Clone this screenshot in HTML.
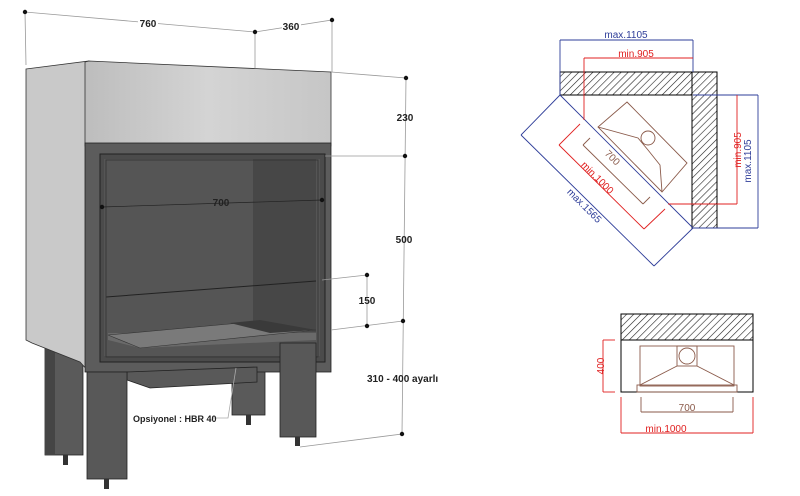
<!DOCTYPE html>
<html><head><style>
html,body{margin:0;padding:0;background:#fff;}
svg{display:block;font-family:"Liberation Sans",sans-serif;}
</style></head><body>
<svg width="800" height="496" viewBox="0 0 800 496" xmlns="http://www.w3.org/2000/svg">
<defs>
<pattern id="h" width="5" height="5" patternUnits="userSpaceOnUse" patternTransform="rotate(45)">
<rect width="5" height="5" fill="#fff"/><line x1="0" y1="0" x2="0" y2="5" stroke="#222" stroke-width="1.2"/>
</pattern>
<linearGradient id="g1" x1="0" x2="1"><stop offset="0" stop-color="#bdbdbd"/><stop offset="0.5" stop-color="#d4d4d4"/><stop offset="1" stop-color="#c6c6c6"/></linearGradient>
</defs>
<!-- left leg back -->
<rect x="45" y="335" width="38" height="120" fill="#5a5a5a" stroke="#222" stroke-width="0.8"/>
<rect x="45" y="335" width="10" height="120" fill="#454545"/>
<rect x="63" y="455" width="5" height="10" fill="#333"/>
<!-- back right leg -->
<rect x="232" y="355" width="33" height="60" fill="#5a5a5a" stroke="#222" stroke-width="0.8"/>
<rect x="246" y="415" width="5" height="10" fill="#333"/>
<!-- side face -->
<polygon points="26,69 89,61 89,372 80,362 32,343 26,340" fill="#c9c9c9" stroke="#333" stroke-width="0.8"/>
<!-- top front face -->
<polygon points="89,61 331,72 331,146 85,146 85,62" fill="url(#g1)" stroke="#333" stroke-width="0.8"/>
<!-- frame -->
<rect x="85" y="143" width="246" height="229" fill="#5c5c5c" stroke="#222" stroke-width="0.8"/>
<rect x="100" y="154" width="225" height="208" fill="#4b4b4b" stroke="#222" stroke-width="1"/>
<rect x="104" y="159" width="216" height="197" fill="#555"/>
<polygon points="253,159 316,159 316,332 253,330" fill="#474747"/>
<line x1="106" y1="297" x2="316" y2="281" stroke="#222" stroke-width="1"/>
<polygon points="108,333 316,333 316,340 140,348 108,340" fill="#6a6a6a"/>
<polygon points="108,335 240,323 316,330 140,348" fill="#7a7a7a" stroke="#333" stroke-width="0.6"/>
<polygon points="230,323 260,320 316,330 270,333" fill="#3a3a3a"/>
<rect x="106" y="160" width="212" height="197" fill="none" stroke="#333" stroke-width="0.8"/>
<!-- box under -->
<polygon points="127,372 257,367 257,382 150,388 127,380" fill="#595959" stroke="#222" stroke-width="0.8"/>
<!-- front legs -->
<rect x="87" y="372" width="40" height="107" fill="#585858" stroke="#222" stroke-width="0.8"/>
<rect x="104" y="479" width="5" height="10" fill="#333"/>
<rect x="280" y="343" width="36" height="94" fill="#585858" stroke="#222" stroke-width="0.8"/>
<rect x="295" y="437" width="5" height="9" fill="#333"/>
<!-- dimension lines -->
<g stroke="#999" stroke-width="0.8" fill="none">
<polyline points="26,65 25,12 255,32 332,20 332,72"/>
<line x1="255" y1="32" x2="255" y2="68"/>
<polyline points="331,72 406,78 402,434 300,447"/>
<line x1="325" y1="156" x2="405" y2="156"/>
<line x1="331" y1="330" x2="403" y2="321"/>
<line x1="322" y1="280" x2="367" y2="275"/>
<line x1="367" y1="275" x2="367" y2="326"/>
</g>
<line x1="102" y1="207" x2="322" y2="200" stroke="#222" stroke-width="0.7"/>
<polyline points="212,418 228,418 236,368" stroke="#aaa" stroke-width="0.8" fill="none"/>
<g fill="#111">
<circle cx="25" cy="12" r="2.2"/><circle cx="255" cy="32" r="2.2"/><circle cx="332" cy="20" r="2.2"/>
<circle cx="406" cy="78" r="2.2"/><circle cx="405" cy="156" r="2.2"/><circle cx="403" cy="321" r="2.2"/><circle cx="402" cy="434" r="2.2"/>
<circle cx="367" cy="275" r="2.2"/><circle cx="367" cy="326" r="2.2"/>
<circle cx="102" cy="207" r="2.2"/><circle cx="322" cy="200" r="2.2"/>
</g>
<g font-size="10" font-weight="bold" fill="#222">
<rect x="138" y="17" width="20" height="11" fill="#fff"/><text x="148" y="27" text-anchor="middle">760</text>
<rect x="282" y="20" width="19" height="11" fill="#fff"/><text x="291" y="30" text-anchor="middle">360</text>
<text x="405" y="121" text-anchor="middle">230</text>
<text x="404" y="243" text-anchor="middle">500</text>
<text x="367" y="304" text-anchor="middle">150</text>
<text x="221" y="206" text-anchor="middle">700</text>
<text x="367" y="382">310 - 400 ayarlı</text>
<text x="133" y="422" font-size="9">Opsiyonel : HBR 40</text>
</g>
<!-- top right plan -->
<rect x="560" y="72" width="157" height="23" fill="url(#h)" stroke="#000" stroke-width="1"/>
<rect x="692" y="72" width="25" height="156" fill="url(#h)" stroke="#000" stroke-width="1"/>
<polyline points="560,95 692,95 692,228" fill="none" stroke="#000" stroke-width="1"/>
<g stroke="#2e3d99" stroke-width="0.9" fill="none">
<line x1="560" y1="40" x2="693" y2="40"/><line x1="560" y1="40" x2="560" y2="95"/><line x1="693" y1="40" x2="693" y2="72"/>
<line x1="693" y1="95" x2="758" y2="95"/><line x1="693" y1="228" x2="758" y2="228"/><line x1="758" y1="95" x2="758" y2="228"/>
<line x1="560" y1="95" x2="693" y2="228"/><line x1="521" y1="135" x2="654" y2="266"/>
<line x1="560" y1="95" x2="521" y2="135"/><line x1="693" y1="228" x2="654" y2="266"/>
</g>
<g stroke="#e02020" stroke-width="0.9" fill="none">
<line x1="584" y1="58" x2="693" y2="58"/><line x1="584" y1="58" x2="584" y2="120"/>
<line x1="737" y1="95" x2="737" y2="204"/><line x1="668" y1="204" x2="737" y2="204"/>
<line x1="559" y1="145" x2="644" y2="229"/><line x1="559" y1="145" x2="580" y2="124"/><line x1="644" y1="229" x2="665" y2="209"/>
</g>
<g stroke="#8a5a4a" stroke-width="0.9" fill="none">
<polygon points="627,102 687,163 662,192 598,127"/>
<line x1="583" y1="145" x2="643" y2="204"/><line x1="583" y1="145" x2="590" y2="138"/><line x1="643" y1="204" x2="650" y2="197"/>
<polyline points="598,127 638,138 648,150 660,165 662,192"/>
<circle cx="648" cy="138" r="7"/>
</g>
<g font-size="10">
<text x="626" y="38" text-anchor="middle" fill="#2e3d99">max.1105</text>
<text x="636" y="57" text-anchor="middle" fill="#e02020">min.905</text>
<text transform="translate(751,161) rotate(-90)" text-anchor="middle" fill="#2e3d99">max.1105</text>
<text transform="translate(741,150) rotate(-90)" text-anchor="middle" fill="#e02020">min.905</text>
<text transform="translate(595,180) rotate(45)" text-anchor="middle" fill="#e02020">min.1000</text>
<text transform="translate(610,160) rotate(45)" text-anchor="middle" fill="#8a5a4a">700</text>
<text transform="translate(582,208) rotate(45)" text-anchor="middle" fill="#2e3d99">max.1565</text>
</g>
<!-- bottom right elevation -->
<rect x="621" y="314" width="132" height="26" fill="url(#h)" stroke="#000" stroke-width="1"/>
<rect x="621" y="340" width="132" height="52" fill="#fff" stroke="#000" stroke-width="1"/>
<g stroke="#8a5a4a" stroke-width="0.9" fill="none">
<rect x="640" y="346" width="94" height="40"/>
<rect x="677" y="346" width="20" height="20"/><circle cx="687" cy="356" r="8"/>
<line x1="677" y1="366" x2="640" y2="385"/><line x1="697" y1="366" x2="734" y2="385"/>
<rect x="637" y="385" width="100" height="7"/>
<line x1="641" y1="397" x2="641" y2="412"/><line x1="733" y1="397" x2="733" y2="412"/><line x1="641" y1="412" x2="733" y2="412"/>
</g>
<g stroke="#e02020" stroke-width="0.9" fill="none">
<line x1="603" y1="340" x2="603" y2="392"/><line x1="603" y1="340" x2="615" y2="340"/><line x1="603" y1="392" x2="615" y2="392"/>
<line x1="621" y1="397" x2="621" y2="433"/><line x1="753" y1="397" x2="753" y2="433"/><line x1="621" y1="433" x2="753" y2="433"/>
</g>
<g font-size="10">
<text x="687" y="411" text-anchor="middle" fill="#8a5a4a">700</text>
<text x="666" y="432" text-anchor="middle" fill="#e02020">min.1000</text>
<text transform="translate(604,366) rotate(-90)" text-anchor="middle" fill="#e02020">400</text>
</g>
</svg>
</body></html>
